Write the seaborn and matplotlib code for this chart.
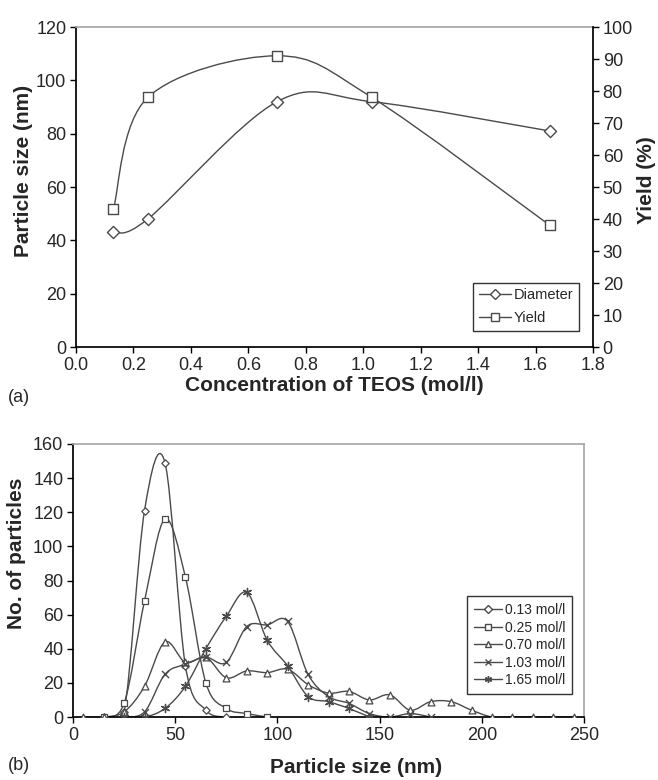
import numpy as np
import pandas as pd
import seaborn as sns
import matplotlib
matplotlib.use("Agg")
import matplotlib.pyplot as plt
from matplotlib.path import Path
from matplotlib.patches import PathPatch
from matplotlib.lines import Line2D

# ---- data: (a) TEOS concentration vs diameter / yield
conc = [0.13, 0.25, 0.70, 1.03, 1.65]
diameter = [43, 48, 92, 92, 81]
yield_pct = [43, 78, 91, 78, 38]

# ---- data: (b) particle size distributions
x_013 = [15, 25, 35, 45, 55, 65, 75]
n_013 = [0, 3, 121, 149, 30, 4, 0]
x_025 = [15, 25, 35, 45, 55, 65, 75, 85, 95]
n_025 = [0, 8, 68, 116, 82, 20, 5, 2, 0]
x_070 = [5, 15, 25, 35, 45, 55, 65, 75, 85, 95, 105, 115, 125, 135, 145, 155,
         165, 175, 185, 195, 205, 215, 225, 235, 245]
n_070 = [0, 0, 3, 18, 44, 32, 35, 23, 27, 26, 28, 19, 14, 15, 10, 13,
         4, 9, 9, 4, 0, 0, 0, 0, 0]
x_103 = [25, 35, 45, 55, 65, 75, 85, 95, 105, 115, 125, 135, 145, 155, 165, 175]
n_103 = [0, 3, 25, 31, 35, 32, 53, 54, 56, 25, 12, 8, 2, 0, 2, 0]
x_165 = [25, 35, 45, 55, 65, 75, 85, 95, 105, 115, 125, 135, 145]
n_165 = [0, 0, 5, 18, 40, 59, 73, 45, 30, 12, 9, 5, 0]

labels_b = ["0.13 mol/l", "0.25 mol/l", "0.70 mol/l", "1.03 mol/l", "1.65 mol/l"]

sns.set_theme(style="ticks")
plt.rcParams["font.family"] = ["Liberation Sans", "DejaVu Sans"]

LC = "#4a4a4a"
GRAY = "#a8a8a8"

W, H = 658, 780
fig = plt.figure(figsize=(W / 100, H / 100), dpi=100)
ax = fig.add_axes([76 / W, 1 - 347 / H, 517 / W, 320 / H])
axb = fig.add_axes([73 / W, 1 - 717 / H, 511 / W, 273 / H])


def smooth_line(a, xs, ys, wpx, hpx, lw=1.0):
    # excel-like smoothed line: bezier through the points, tangents from neighbours
    x0, x1 = a.get_xlim()
    y0, y1 = a.get_ylim()
    P = np.column_stack([(np.array(xs) - x0) / (x1 - x0) * wpx,
                         (np.array(ys) - y0) / (y1 - y0) * hpx])
    n = len(P)
    verts = [P[0]]
    codes = [Path.MOVETO]
    for i in range(n - 1):
        prev = P[i - 1] if i > 0 else P[i]
        nxt = P[i + 2] if i + 2 < n else P[i + 1]
        c1 = P[i] + (P[i + 1] - prev) / 6
        c2 = P[i + 1] - (nxt - P[i]) / 6
        verts += [c1, c2, P[i + 1]]
        codes += [Path.CURVE4] * 3
    V = np.array(verts)
    V[:, 0] = V[:, 0] / wpx * (x1 - x0) + x0
    V[:, 1] = V[:, 1] / hpx * (y1 - y0) + y0
    a.add_patch(PathPatch(Path(V, codes), fill=False, edgecolor=LC, lw=lw, zorder=2))


# ================= (a)
ax2 = ax.twinx()
ax.set_xlim(0, 1.8)
ax.set_ylim(0, 120)
ax2.set_ylim(0, 100)
smooth_line(ax, conc, diameter, 517, 320)
smooth_line(ax2, conc, yield_pct, 517, 320)
sns.scatterplot(x=conc, y=diameter, marker="D", s=38, color="white",
                edgecolor=LC, linewidth=1.0, ax=ax, zorder=3)
sns.scatterplot(x=conc, y=yield_pct, marker="s", s=50, color="white",
                edgecolor=LC, linewidth=1.0, ax=ax2, zorder=3)

ax.set_xticks(np.arange(0, 1.81, 0.2))
ax.set_xticklabels([f"{v:.1f}" for v in np.arange(0, 1.81, 0.2)])
ax.set_yticks(range(0, 121, 20))
ax2.set_yticks(range(0, 101, 10))
for a in (ax, ax2):
    a.tick_params(labelsize=13, length=4, width=1, color="black", pad=3)
ax.spines["top"].set_color(GRAY)
ax.spines["right"].set_visible(False)
ax2.spines["top"].set_visible(False)
ax2.spines["left"].set_visible(False)
ax2.spines["bottom"].set_visible(False)
for s in ("left", "bottom"):
    ax.spines[s].set_color("black")
ax2.spines["right"].set_color("black")

ax.set_xlabel("Concentration of TEOS (mol/l)", fontsize=15, fontweight="bold")
ax.set_ylabel("Particle size (nm)", fontsize=15, fontweight="bold")
ax2.set_ylabel("Yield (%)", fontsize=15, fontweight="bold")
ax.xaxis.set_label_coords(0.5, -0.092)
ax.yaxis.set_label_coords(-0.083, 0.55)
ax2.yaxis.set_label_coords(1.085, 0.52)

h_a = [Line2D([], [], color=LC, lw=1, marker="D", ms=5, mfc="white", mec=LC),
       Line2D([], [], color=LC, lw=1, marker="s", ms=6, mfc="white", mec=LC)]
leg = ax2.legend(h_a, ["Diameter", "Yield"], loc="lower right",
                 bbox_to_anchor=(0.973, 0.05), fontsize=10.5, frameon=True,
                 fancybox=False, edgecolor="black", handlelength=2.2,
                 handletextpad=0.2, labelspacing=0.6, borderpad=0.4,
                 borderaxespad=0)
leg.get_frame().set_linewidth(1.0)
fig.text(0.012, 1 - 398 / H, "(a)", fontsize=13, va="center")

# ================= (b)
axb.set_xlim(0, 250)
axb.set_ylim(0, 160)
series_b = [(x_013, n_013, "D", 14), (x_025, n_025, "s", 20),
            (x_070, n_070, "^", 24), (x_103, n_103, "x", 26),
            (x_165, n_165, (6, 2, 0), 34)]
for xs, ys, mk, sz in series_b:
    smooth_line(axb, xs, ys, 511, 273, lw=1.0)
for xs, ys, mk, sz in series_b:
    if mk in ("x",) or isinstance(mk, tuple):
        sns.scatterplot(x=xs, y=ys, marker=mk, s=sz, color=LC, linewidth=1.0,
                        ax=axb, zorder=3)
    else:
        sns.scatterplot(x=xs, y=ys, marker=mk, s=sz, color="white", edgecolor=LC,
                        linewidth=0.9, ax=axb, zorder=3)

axb.set_xticks(range(0, 251, 50))
axb.set_yticks(range(0, 161, 20))
axb.tick_params(labelsize=13, length=4, width=1, color="black", pad=3)
axb.spines["top"].set_color(GRAY)
axb.spines["right"].set_color(GRAY)
axb.spines["left"].set_color("black")
axb.spines["bottom"].set_color("black")
axb.set_xlabel("Particle size (nm)", fontsize=15, fontweight="bold")
axb.set_ylabel("No. of particles", fontsize=15, fontweight="bold")
axb.xaxis.set_label_coords(0.554, -0.152)
axb.yaxis.set_label_coords(-0.092, 0.60)

h_b = []
for xs, ys, mk, sz in series_b:
    if mk in ("x",) or isinstance(mk, tuple):
        h_b.append(Line2D([], [], color=LC, lw=1, marker=mk, ms=5, mec=LC))
    else:
        h_b.append(Line2D([], [], color=LC, lw=1, marker=mk, ms=4, mfc="white", mec=LC))
legb = axb.legend(h_b, labels_b, loc="lower right", bbox_to_anchor=(0.977, 0.084),
                  fontsize=10, frameon=True, fancybox=False, edgecolor="black",
                  handlelength=2.0, handletextpad=0.2, labelspacing=0.25,
                  borderpad=0.5, borderaxespad=0)
legb.get_frame().set_linewidth(1.0)
fig.text(0.012, 1 - 765 / H, "(b)", fontsize=13, va="center")

fig.savefig("out.png", dpi=100, facecolor="white")
